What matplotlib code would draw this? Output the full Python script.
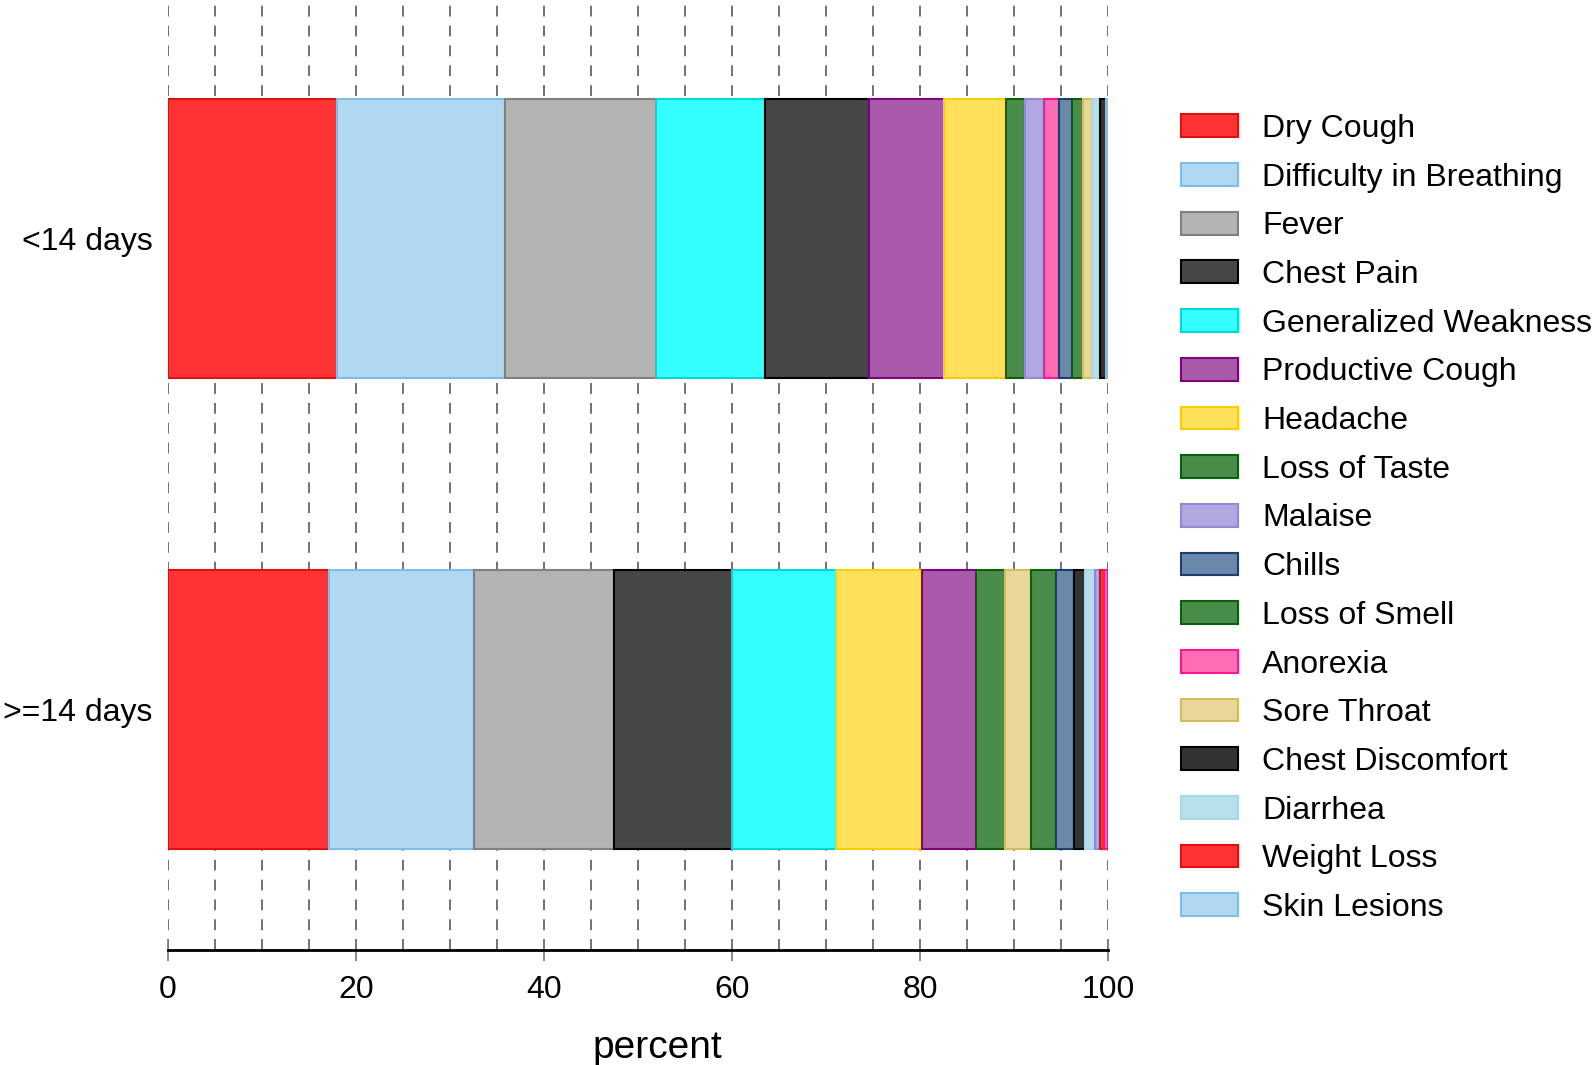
import numpy as np
import matplotlib
matplotlib.use("Agg")
import matplotlib.pyplot as plt
from matplotlib.patches import Patch
from matplotlib.ticker import MultipleLocator

plt.rcParams['font.family'] = ['Liberation Sans', 'DejaVu Sans']

groups = ['<14 days', '>=14 days']
symptoms = ['Dry Cough', 'Difficulty in Breathing', 'Fever', 'Chest Pain',
            'Generalized Weakness', 'Productive Cough', 'Headache', 'Loss of Taste',
            'Malaise', 'Chills', 'Loss of Smell', 'Anorexia', 'Sore Throat',
            'Chest Discomfort', 'Diarrhea', 'Weight Loss', 'Skin Lesions']

# percent of each symptom, in the symptom order above
under_14 = [18.0, 17.9, 16.0, 11.1, 11.6, 8.0, 6.6, 2.0,
            2.0, 1.4, 1.1, 1.6, 1.0, 0.7, 0.8, 0.0, 0.2]
over_14 = [17.1, 15.4, 14.9, 12.6, 11.1, 5.8, 9.1, 3.0,
           0.5, 1.9, 2.7, 0.4, 2.8, 1.2, 1.0, 0.5, 0.0]

fills = ['#FF3333', '#B0D8F0', '#B3B3B3', '#474747', '#33FFFF', '#AA5AAA',
         '#FFE05A', '#4A8C4A', '#B0A8E0', '#6A88A8', '#4A8C4A', '#FF6EB4',
         '#E8D898', '#333333', '#B8E0EA', '#FF3333', '#B0D8F0']
edges = ['#DD1111', '#7FBDE8', '#808080', '#000000', '#00D8D8', '#800080',
         '#FFCC00', '#0B5E0B', '#9588D8', '#1F3F6F', '#0B5E0B', '#FF1493',
         '#D4BC5A', '#000000', '#A8D8E6', '#DD1111', '#7FBDE8']

fig = plt.figure(figsize=(15.94, 10.65), dpi=100)
ax = fig.add_axes([0.1054, 0.108, 0.5897, 0.892])

ypos = [1, 0]
for y, vals in zip(ypos, [under_14, over_14]):
    vals = np.array(vals)
    order = np.argsort(-vals, kind='stable')
    left = 0.0
    for i in order:
        if vals[i] <= 0:
            continue
        ax.barh(y, vals[i], height=0.593, left=left, color=fills[i],
                edgecolor=edges[i], linewidth=1.5, zorder=3)
        left += vals[i]

ax.set_xlim(0, 100)
ax.set_ylim(-0.512, 1.507)
ax.set_yticks(ypos)
ax.set_yticklabels(groups, fontsize=23)
ax.tick_params(axis='y', length=0, pad=11)

ax.xaxis.set_major_locator(MultipleLocator(20))
ax.xaxis.set_minor_locator(MultipleLocator(5))
ax.tick_params(axis='x', which='major', direction='inout', length=16,
               width=1.2, color='#777777', labelsize=23, pad=10)
ax.tick_params(axis='x', which='minor', direction='in', length=8,
               width=1.2, color='#777777')
ax.grid(axis='x', which='both', color='#666666', linestyle=(0, (6, 5)),
        linewidth=1.3, zorder=0)
ax.set_axisbelow(True)
ax.set_xlabel('percent', fontsize=28, labelpad=18)
ax.xaxis.label.set_x(0.521)

for s in ['top', 'right', 'left']:
    ax.spines[s].set_visible(False)
ax.spines['bottom'].set_linewidth(2)

handles = [Patch(facecolor=f, edgecolor=e, linewidth=1.5) for f, e in zip(fills, edges)]
fig.legend(handles, symptoms, loc='upper left', bbox_to_anchor=(0.733, 0.905),
           frameon=False, fontsize=23, handlelength=1.78, handleheight=0.72,
           handletextpad=0.75, labelspacing=0.585, borderaxespad=0)

fig.savefig('out.png', dpi=100)
